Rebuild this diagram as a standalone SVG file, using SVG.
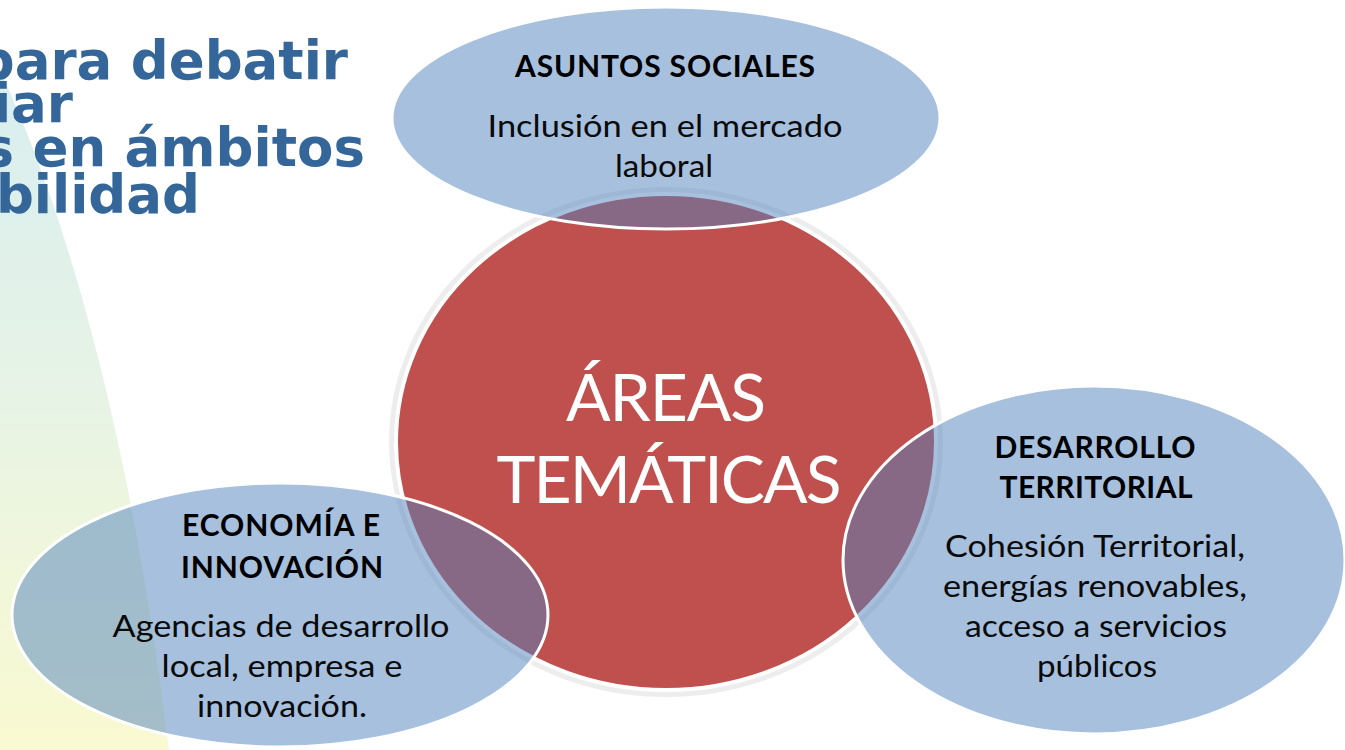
<svg xmlns="http://www.w3.org/2000/svg" width="1345" height="750" viewBox="0 0 1345 750">
  <defs>
    <linearGradient id="bgGrad" x1="0" y1="0" x2="0" y2="1">
      <stop offset="0" stop-color="#d8eef0"/>
      <stop offset="0.45" stop-color="#e6f3e6"/>
      <stop offset="1" stop-color="#fafad0"/>
    </linearGradient>
  </defs>
  <style>
    .title { font-family: "DejaVu Sans", Verdana, sans-serif; font-weight: bold; font-size: 53px; fill: #346699; }
    .blue { fill: #4f81bd; fill-opacity: 0.5; stroke: #ffffff; stroke-width: 3; }
    .red { fill: #c0504d; stroke: #ffffff; stroke-width: 4; }
    .glow { fill: none; stroke: #000000; stroke-opacity: 0.07; stroke-width: 10; }
    .head { font-family: Lato, "Open Sans", sans-serif; font-weight: bold; font-size: 30px; fill: #000000; text-anchor: middle; }
    .body { font-family: Lato, "Open Sans", sans-serif; font-size: 31px; fill: #0a0a0a; text-anchor: middle; }
    .big { font-family: Lato, "Open Sans", sans-serif; font-size: 66px; fill: #ffffff; text-anchor: middle; }
  </style>
  <rect x="0" y="0" width="1345" height="750" fill="#ffffff"/>
  <g id="background">
    <path d="M 0,70 C 60,200 130,420 170,760 L 0,760 Z" fill="url(#bgGrad)"/>
  </g>
  <g id="title">
    <text class="title" x="348" y="79" text-anchor="end">para debatir</text>
    <text class="title" x="73" y="122" text-anchor="end">iar</text>
    <text class="title" x="365" y="166" text-anchor="end">s en ámbitos</text>
    <text class="title" x="200" y="213" text-anchor="end">bilidad</text>
  </g>
  <g id="connectors"></g>
  <g id="areas-tematicas">
    <ellipse class="glow" cx="666" cy="442" rx="272" ry="250"/>
    <ellipse class="red" cx="666" cy="442" rx="270" ry="248"/>
    <text class="big" x="666" y="421" textLength="200">ÁREAS</text>
    <text class="big" x="669" y="503" textLength="345">TEMÁTICAS</text>
  </g>
  <g id="asuntos-sociales">
    <ellipse class="blue" cx="666" cy="118" rx="274" ry="111"/>
    <text class="head" x="665" y="77" textLength="300">ASUNTOS SOCIALES</text>
    <text class="body" x="665" y="137" textLength="355" lengthAdjust="spacingAndGlyphs">Inclusión en el mercado</text>
    <text class="body" x="664" y="177" textLength="98" lengthAdjust="spacingAndGlyphs">laboral</text>
  </g>
  <g id="desarrollo-territorial">
    <ellipse class="blue" cx="1094" cy="560" rx="251" ry="174"/>
    <text class="head" x="1095" y="458" textLength="201">DESARROLLO</text>
    <text class="head" x="1096" y="498" textLength="193">TERRITORIAL</text>
    <text class="body" x="1095" y="557" textLength="300" lengthAdjust="spacingAndGlyphs">Cohesión Territorial,</text>
    <text class="body" x="1095" y="597" textLength="304" lengthAdjust="spacingAndGlyphs">energías renovables,</text>
    <text class="body" x="1096" y="637" textLength="262" lengthAdjust="spacingAndGlyphs">acceso a servicios</text>
    <text class="body" x="1097" y="677" textLength="120" lengthAdjust="spacingAndGlyphs">públicos</text>
  </g>
  <g id="economia-innovacion">
    <ellipse class="blue" cx="280" cy="615" rx="268" ry="132"/>
    <text class="head" x="281" y="536" textLength="198">ECONOMÍA E</text>
    <text class="head" x="282" y="578" textLength="202">INNOVACIÓN</text>
    <text class="body" x="281" y="637" textLength="337" lengthAdjust="spacingAndGlyphs">Agencias de desarrollo</text>
    <text class="body" x="282" y="677" textLength="241" lengthAdjust="spacingAndGlyphs">local, empresa e</text>
    <text class="body" x="282" y="717" textLength="170" lengthAdjust="spacingAndGlyphs">innovación.</text>
  </g>
</svg>
